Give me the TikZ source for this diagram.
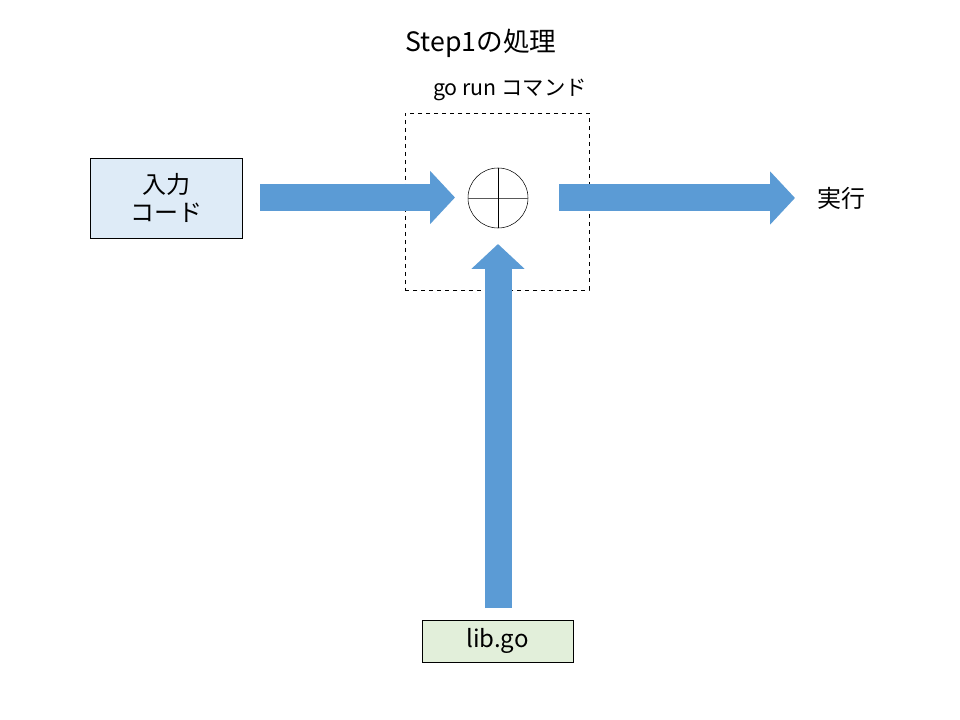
\documentclass[tikz,border=0pt]{standalone}
\usepackage{fontspec}
\newfontfamily\jpfont{Noto Sans CJK JP}
\usepackage{tikz}
\usetikzlibrary{calc, positioning}
\usetikzlibrary{arrows.meta}
\tikzset{>=stealth}
\usepackage{xcolor}
\definecolor{arrowblue}{HTML}{5B9BD5}
\definecolor{inputblue}{HTML}{DEEBF7}
\definecolor{libgreen}{HTML}{E2EFDA}
\tikzset{
	every node/.style={font=\jpfont\fontsize{18}{21}\selectfont},
	blockarrow/.style={line width=20.25pt, arrowblue, -{Triangle[width=39pt, length=18.75pt]}},
	srcbox/.style={draw, thin, align=center, inner sep=0pt}
}

\begin{document}
\begin{tikzpicture}[x=0.75pt, y=-0.75pt]
			\useasboundingbox (0,0) rectangle (960,720);
			\node (title) at (481,43) {\fontsize{20}{24}\selectfont Step1の処理};
			\node (cmd) at (510,90) {\fontsize{16}{19}\selectfont go run コマンド};
			\node [draw, dashed, thin, minimum width=138pt, minimum height=132.75pt] (runbox) at (497,201.5) {};
			\node [srcbox, fill=inputblue, minimum width=114pt, minimum height=60pt] (input) at (166,198) {入力\\コード};
			\node [srcbox, fill=libgreen, minimum width=113.25pt, minimum height=31.5pt] (lib) at (497.5,641) {lib.go};
			\node [draw, thin, circle, minimum size=45pt, inner sep=0pt] (merge) at (498,198) {};
			\draw [thin, gray!70!black] (merge.west) -- (merge.east);
			\draw [thin] (merge.north) -- (merge.south);
			\node (exec) at (841,198) {実行};
			% block arrows
			\coordinate (inA) at (260,197.5);
			\coordinate (inB) at (455,197.5);
			\coordinate (outA) at (559,198);
			\coordinate (outB) at (795,198);
			\coordinate (upA) at (498,608);
			\coordinate (upB) at (498,244);
			\draw [blockarrow] (inA) -- (inB);
			\draw [blockarrow] (outA) -- (outB);
			\draw [blockarrow] (upA) -- (upB);
		\end{tikzpicture}
\end{document}
